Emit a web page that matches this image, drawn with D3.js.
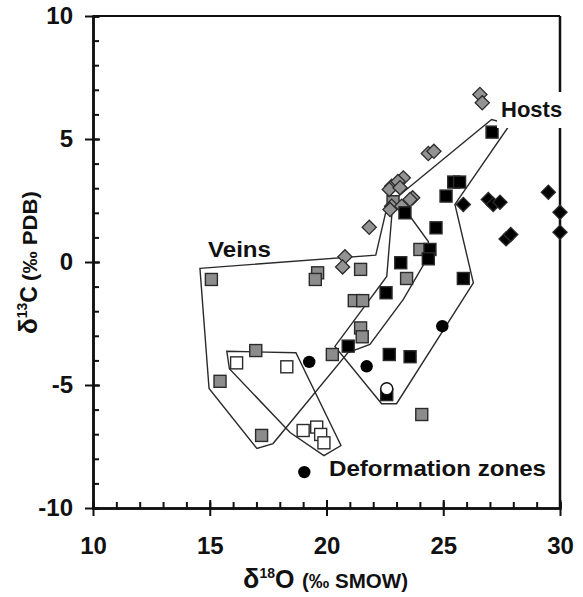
<!DOCTYPE html>
<html>
<head>
<meta charset="utf-8">
<script src="https://cdn.jsdelivr.net/npm/d3@7"></script>
<style>
  body { margin: 0; background: #fff; }
  svg text { font-family: "Liberation Sans", Arial, sans-serif; font-weight: bold; fill: #111; }
</style>
</head>
<body>
<svg id="chart" width="583" height="597"></svg>
<script>
// values: [d18O, d13C]
const grayDiamonds = [
  [26.57, 6.81], [26.67, 6.47], [24.36, 4.41], [24.6, 4.5],
  [22.79, 3.08], [22.69, 2.95], [23.29, 3.42], [23.06, 3.27], [23.15, 3.02],
  [23.69, 2.61], [23.58, 2.54], [22.79, 2.27], [22.72, 2.13], [23.22, 2.27],
  [21.83, 1.41], [20.79, 0.21], [20.69, -0.2]
]
const graySquares = [
  [15.07, -0.71], [19.62, -0.44], [19.52, -0.71], [21.46, -0.3], [24.0, 0.51],
  [23.43, -0.67], [21.19, -1.57], [21.55, -1.57], [21.46, -2.68], [21.53, -3.04],
  [20.25, -3.76], [15.44, -4.85], [16.97, -3.6], [17.22, -7.05], [24.08, -6.2],
  [22.85, 2.45]
]
const blackSquares = [
  [27.09, 5.28], [25.45, 3.25], [25.7, 3.25], [25.12, 2.68], [23.36, 2.0],
  [24.69, 1.39], [24.43, 0.51], [24.36, 0.13], [23.18, -0.03], [25.86, -0.67],
  [22.55, -1.25], [20.93, -3.42], [22.69, -3.76], [23.58, -3.85], [22.58, -5.39]
]
const whiteSquares = [
  [16.15, -4.1], [18.3, -4.26], [19.0, -6.85], [19.58, -6.71], [19.75, -7.01], [19.89, -7.35]
]
const blackDiamonds = [
  [25.86, 2.34], [26.93, 2.54], [27.14, 2.34], [27.43, 2.43], [29.5, 2.84],
  [30.0, 2.02], [30.0, 1.21], [27.69, 0.94], [27.89, 1.12]
]
const blackCircles = [[19.26, -4.06], [21.72, -4.24], [24.96, -2.61], [19.05, -8.54]]
const openCircles = [[22.58, -5.15]]

// field outlines
const veinsField = [
  [14.58, -0.26], [22.11, 0.28], [22.6, 2.27], [23.15, 2.42], [24.36, 0.83], [24.36, 0.22],
  [23.29, -1.52], [21.86, -3.35], [20.92, -3.68], [17.71, -7.38], [17.02, -7.58], [14.97, -5.14]
]
const hostsField = [
  [22.85, 2.5], [27.07, 5.79], [27.86, 5.59], [25.5, 2.34], [26.29, -0.85],
  [23.0, -5.76], [22.36, -5.76], [20.36, -3.43], [22.58, -0.59]
]
const zoneField = [
  [15.73, -3.63], [18.69, -3.69], [20.62, -7.46], [19.89, -7.87], [18.44, -6.93], [15.84, -4.34]
]

const xMajor = [10, 15, 20, 25, 30]
const yMajor = [-10, -5, 0, 5, 10]

const svg = d3.select('#chart')
const x = d3.scaleLinear().domain([10, 30]).range([93, 560])
const y = d3.scaleLinear().domain([-10, 10]).range([508, 16])

// frame top + right
svg.append('line').attr('x1', 93).attr('x2', 560).attr('y1', y(10)).attr('y2', y(10))
  .attr('stroke', '#111').attr('stroke-width', 2)
svg.append('line').attr('x1', x(30)).attr('x2', x(30)).attr('y1', y(10)).attr('y2', y(-10))
  .attr('stroke', '#111').attr('stroke-width', 2.5)

// minor ticks inside
const xMinor = d3.range(10, 31, 1)
const yMinor = d3.range(-10, 11, 1)
svg.append('g').attr('transform', `translate(0,${y(-10)})`)
  .call(d3.axisBottom(x).tickValues(xMinor).tickSize(-6).tickFormat(''))
svg.append('g').attr('transform', `translate(${x(10)},0)`)
  .call(d3.axisLeft(y).tickValues(yMinor).tickSize(-6).tickFormat(''))

// major ticks crossing the axes, with labels (plain hyphen minus like the original)
const plain = d => String(d)
const xAxis = svg.append('g').attr('transform', `translate(0,${y(-10)})`)
  .call(d3.axisBottom(x).tickValues(xMajor).tickFormat(plain).tickSizeInner(8).tickSizeOuter(0).tickPadding(21))
xAxis.selectAll('.tick').append('line').attr('y2', -8).attr('stroke', '#111')
const yAxis = svg.append('g').attr('transform', `translate(${x(10)},0)`)
  .call(d3.axisLeft(y).tickValues(yMajor).tickFormat(plain).tickSizeInner(8).tickSizeOuter(0).tickPadding(12))
yAxis.selectAll('.tick').append('line').attr('x2', 7).attr('stroke', '#111')

svg.selectAll('.domain').attr('stroke', '#111').attr('stroke-width', 2.5)
svg.selectAll('.tick line').attr('stroke', '#111').attr('stroke-width', 2)
svg.selectAll('.tick text').attr('font-size', 24).attr('fill', '#111')
  .style('font-family', '"Liberation Sans", Arial, sans-serif').style('font-weight', 'bold')

// outlines
const line = d3.line().x(d => x(d[0])).y(d => y(d[1])).curve(d3.curveLinearClosed)
svg.append('g').selectAll('path')
  .data([veinsField, hostsField, zoneField])
  .join('path')
  .attr('d', line)
  .attr('fill', 'none')
  .attr('stroke', '#2a2a2a')
  .attr('stroke-width', 1.4)

const sq = 12
function squares(data, fill) {
  svg.append('g').selectAll('rect')
    .data(data)
    .join('rect')
    .attr('x', d => x(d[0]) - sq / 2)
    .attr('y', d => y(d[1]) - sq / 2)
    .attr('width', sq)
    .attr('height', sq)
    .attr('fill', fill)
    .attr('stroke', '#2b2b2b')
    .attr('stroke-width', 1.4)
}
function diamonds(data, fill) {
  svg.append('g').selectAll('rect')
    .data(data)
    .join('rect')
    .attr('x', -5)
    .attr('y', -5)
    .attr('width', 10)
    .attr('height', 10)
    .attr('transform', d => `translate(${x(d[0])},${y(d[1])}) rotate(45)`)
    .attr('fill', fill)
    .attr('stroke', '#2b2b2b')
    .attr('stroke-width', 1.3)
}

squares(graySquares, '#8c8c8c')
squares(whiteSquares, '#fff')
diamonds(grayDiamonds, '#939393')
squares(blackSquares, '#000')
diamonds(blackDiamonds, '#000')

svg.append('g').selectAll('circle')
  .data(blackCircles)
  .join('circle')
  .attr('cx', d => x(d[0])).attr('cy', d => y(d[1])).attr('r', 6.2)
  .attr('fill', '#000')
svg.append('g').selectAll('circle')
  .data(openCircles)
  .join('circle')
  .attr('cx', d => x(d[0])).attr('cy', d => y(d[1])).attr('r', 6)
  .attr('fill', '#fff').attr('stroke', '#111').attr('stroke-width', 1.4)

// field labels
svg.append('rect').attr('x', 497).attr('y', 92).attr('width', 72).attr('height', 36).attr('fill', '#fff')
svg.append('text').attr('x', 501).attr('y', 117).attr('font-size', 22).text('Hosts')
svg.append('text').attr('x', 208).attr('y', 257).attr('font-size', 22)
  .attr('textLength', 63).attr('lengthAdjust', 'spacingAndGlyphs').text('Veins')
svg.append('text').attr('x', 329).attr('y', 476).attr('font-size', 22)
  .attr('textLength', 217).attr('lengthAdjust', 'spacingAndGlyphs').text('Deformation zones')

// axis titles
const xt = svg.append('text').attr('x', 243).attr('y', 588)
xt.append('tspan').attr('font-size', 27).text('δ')
xt.append('tspan').attr('font-size', 14).attr('dy', -10).text('18')
xt.append('tspan').attr('font-size', 25).attr('dy', 10).text('O')
svg.append('text').attr('x', 302).attr('y', 588).attr('font-size', 20)
  .attr('textLength', 106).attr('lengthAdjust', 'spacingAndGlyphs').text('(‰ SMOW)')

const yt = svg.append('text').attr('transform', 'translate(37,0) rotate(-90)')
yt.append('tspan').attr('x', -334).attr('font-size', 26).text('δ')
yt.append('tspan').attr('font-size', 14).attr('dy', -10).text('13')
yt.append('tspan').attr('font-size', 23).attr('dy', 10).text('C')
svg.append('text').attr('transform', 'translate(37,0) rotate(-90)')
  .attr('x', -281).attr('font-size', 21)
  .attr('textLength', 90).attr('lengthAdjust', 'spacingAndGlyphs').text('(‰ PDB)')
</script>
</body>
</html>
